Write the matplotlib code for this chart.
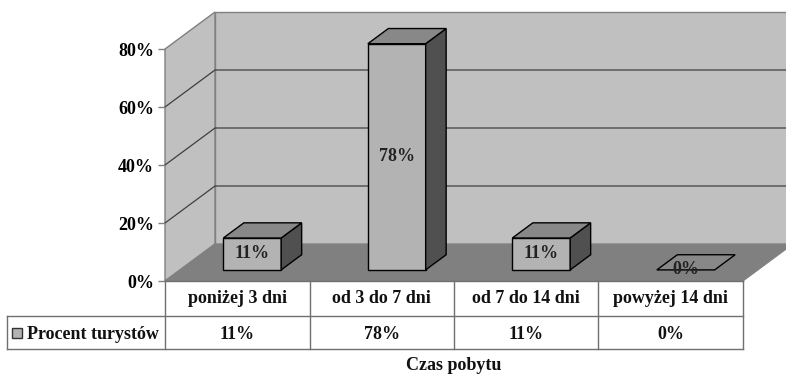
import matplotlib.pyplot as plt
from matplotlib.patches import Polygon
from matplotlib import transforms
import numpy as np

# data
categories = ["poniżej 3 dni", "od 3 do 7 dni", "od 7 do 14 dni", "powyżej 14 dni"]
values = [11, 78, 11, 0]
series_name = "Procent turystów"
axis_title = "Czas pobytu"
yticks = [0, 20, 40, 60, 80]

plt.rcParams['font.family'] = ['Liberation Serif', 'DejaVu Serif']
plt.rcParams['font.weight'] = 'bold'
FS = 13

W, H = 786, 376
fig = plt.figure(figsize=(W / 100, H / 100), dpi=100)

# front plane of the 3d box, in pixels
x_left, x_right = 165, 743
y_zero, y_top = 281, 49
ax = fig.add_axes([x_left / W, 1 - y_zero / H, (x_right - x_left) / W, (y_zero - y_top) / H])
ax.set_xlim(0, len(categories))
ax.set_ylim(0, 80)

# depth offset (full depth) converted to data units
px_cat = (x_right - x_left) / len(categories)
px_pct = (y_zero - y_top) / 80
DX = 50 / px_cat
DY = 37 / px_pct


def proj(x, y, d):
    return (x + d * DX, y + d * DY)


def poly(pts, fc, ec, lw=1.0, z=1):
    p = Polygon(pts, closed=True, facecolor=fc, edgecolor=ec, linewidth=lw,
                zorder=z, clip_on=False, joinstyle='miter')
    ax.add_patch(p)


ncat = len(categories)
ymax = 80

# walls and floor
poly([proj(0, 0, 1), proj(ncat, 0, 1), proj(ncat, ymax, 1), proj(0, ymax, 1)],
     '#c0c0c0', '#808080', 1.0, 1)
poly([proj(0, 0, 0), proj(0, 0, 1), proj(0, ymax, 1), proj(0, ymax, 0)],
     '#c0c0c0', '#808080', 1.0, 1)
poly([proj(0, 0, 0), proj(ncat, 0, 0), proj(ncat, 0, 1), proj(0, 0, 1)],
     '#808080', '#808080', 0.8, 2)

# gridlines on the walls
for v in yticks[1:-1]:
    a = proj(0, v, 0)
    b = proj(0, v, 1)
    c = proj(ncat, v, 1)
    ax.plot([a[0], b[0], c[0]], [a[1], b[1], c[1]], color='#404040', lw=0.9,
            zorder=1.5, clip_on=False)

# bars
bar_w = 0.4
d0, d1 = 0.3, 0.71
for i, v in enumerate(values):
    x0 = i + 0.5 - bar_w / 2
    x1 = i + 0.5 + bar_w / 2
    if v > 0:
        poly([proj(x0, 0, d0), proj(x1, 0, d0), proj(x1, v, d0), proj(x0, v, d0)],
             '#b3b3b3', 'black', 1.0, 3)
        poly([proj(x1, 0, d0), proj(x1, 0, d1), proj(x1, v, d1), proj(x1, v, d0)],
             '#505050', 'black', 1.0, 3)
    poly([proj(x0, v, d0), proj(x1, v, d0), proj(x1, v, d1), proj(x0, v, d1)],
         '#888888', 'black', 1.0, 3)
    cx, cy = proj(i + 0.5, v / 2, d0)
    ax.text(cx, cy, f"{v}%", ha='center', va='center', fontsize=FS,
            color='#222222', zorder=4)

# y axis
ax.set_xticks([])
ax.set_yticks(yticks)
ax.set_yticklabels([f"{t}%" for t in yticks], fontsize=FS, fontweight='bold')
ax.tick_params(axis='y', length=5, width=1, color='#808080', pad=3)
for s in ax.spines.values():
    s.set_visible(False)
ax.patch.set_visible(False)

# data table
tr = transforms.blended_transform_factory(ax.transData, fig.transFigure)
row_top = 1 - 281 / H
row_mid = 1 - 316 / H
row_bot = 1 - 349 / H
line_c = '#707070'
table_left = (7 / W - ax.get_position().x0) / ax.get_position().width * ncat

ax.plot([0, ncat], [row_top, row_top], color=line_c, lw=1, transform=tr, clip_on=False)
ax.plot([table_left, ncat], [row_mid, row_mid], color=line_c, lw=1, transform=tr, clip_on=False)
ax.plot([table_left, ncat], [row_bot, row_bot], color=line_c, lw=1, transform=tr, clip_on=False)
ax.plot([table_left, table_left], [row_mid, row_bot], color=line_c, lw=1, transform=tr, clip_on=False)
for k in range(ncat + 1):
    ax.plot([k, k], [row_top, row_bot], color=line_c, lw=1, transform=tr, clip_on=False)

for i, (c, v) in enumerate(zip(categories, values)):
    ax.text(i + 0.5, (row_top + row_mid) / 2, c, ha='center', va='center',
            fontsize=FS, transform=tr, color='#111111')
    ax.text(i + 0.5, (row_mid + row_bot) / 2 - 0.004, f"{v}%", ha='center', va='center',
            fontsize=FS, transform=tr, color='#111111')

# legend key in the table
key = plt.Rectangle((12 / W, 1 - 338 / H), 10 / W, 10 / H, transform=fig.transFigure,
                    facecolor='#b3b3b3', edgecolor='#333333', lw=1)
fig.patches.append(key)
fig.text(27 / W, (row_mid + row_bot) / 2 - 0.004, series_name, ha='left', va='center',
         fontsize=FS, color='#111111')

fig.text((x_left + x_right) / 2 / W, 1 - 366 / H, axis_title, ha='center', va='center',
         fontsize=FS, color='#111111')

fig.savefig("out.png", dpi=100)
